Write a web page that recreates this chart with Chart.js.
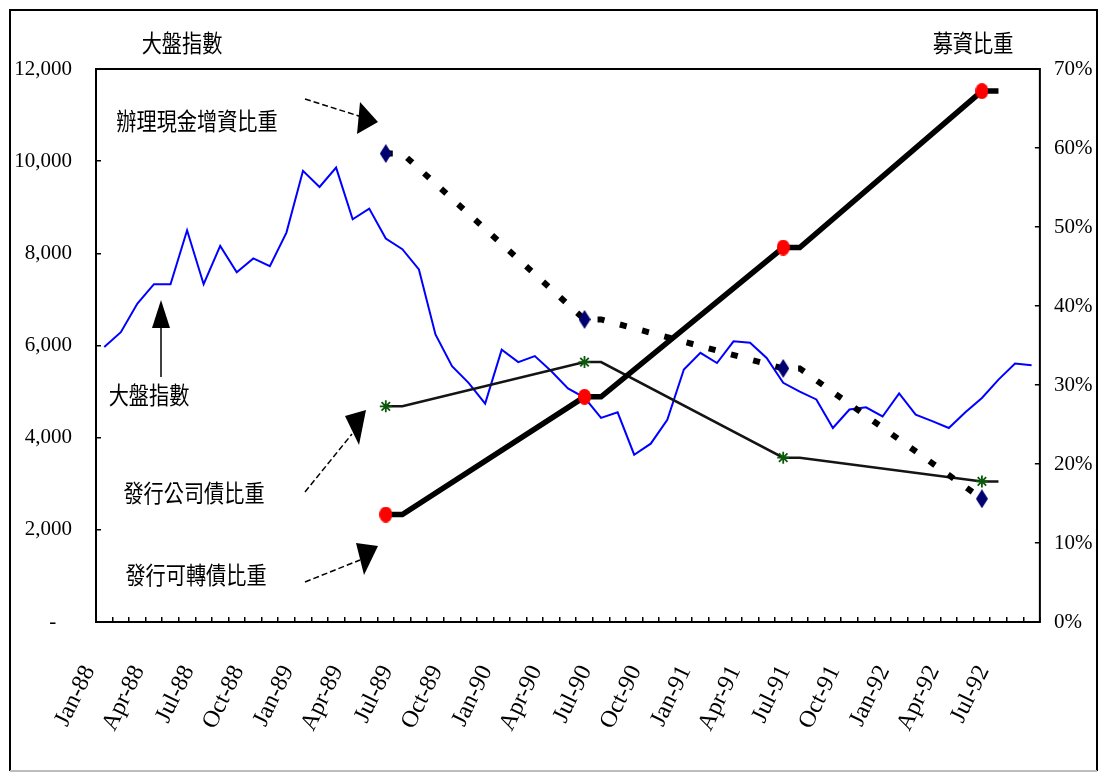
<!DOCTYPE html>
<html>
<head>
<meta charset="utf-8">
<script src="https://cdn.jsdelivr.net/npm/chart.js@4/dist/chart.umd.min.js"></script>
<style>
  html, body { margin: 0; padding: 0; background: #ffffff; }
  canvas { display: block; }
</style>
</head>
<body>
<canvas id="chart" width="1102" height="774"></canvas>
<script>
// Monthly categories, Jan-88 .. Sep-92
const months = [
  'Jan-88','Feb-88','Mar-88','Apr-88','May-88','Jun-88','Jul-88','Aug-88','Sep-88','Oct-88','Nov-88','Dec-88',
  'Jan-89','Feb-89','Mar-89','Apr-89','May-89','Jun-89','Jul-89','Aug-89','Sep-89','Oct-89','Nov-89','Dec-89',
  'Jan-90','Feb-90','Mar-90','Apr-90','May-90','Jun-90','Jul-90','Aug-90','Sep-90','Oct-90','Nov-90','Dec-90',
  'Jan-91','Feb-91','Mar-91','Apr-91','May-91','Jun-91','Jul-91','Aug-91','Sep-91','Oct-91','Nov-91','Dec-91',
  'Jan-92','Feb-92','Mar-92','Apr-92','May-92','Jun-92','Jul-92','Aug-92','Sep-92'
];

// 大盤指數 (left axis)
const indexLevels = [
  5970, 6290, 6910, 7330, 7330, 8500, 7330, 8160, 7590, 7890, 7720, 8450,
  9790, 9440, 9860, 8740, 8970, 8320, 8090, 7650, 6240, 5550, 5190, 4740,
  5910, 5640, 5770, 5440, 5070, 4870, 4430, 4550, 3630, 3870, 4390, 5480,
  5840, 5620, 6090, 6060, 5730, 5190, 5000, 4830, 4210, 4610, 4660, 4460,
  4960, 4500, 4360, 4210, 4550, 4860, 5260, 5610, 5570
];

// 募資比重 (right axis, %)
const shareMonths      = ['Jun-89','Jul-89','Jun-90','Jul-90','Jun-91','Jul-91','Jun-92','Jul-92'];
const convertibleShare = [13.6, 13.6, 28.5, 28.5, 47.4, 47.4, 67.2, 67.2];   // 發行可轉債比重
const corporateShare   = [27.3, 27.3, 32.9, 32.9, 20.8, 20.8, 17.8, 17.8];   // 發行公司債比重
const cashMonths       = ['Jun-89','Jul-89','Jun-90','Jul-90','Jun-91','Jul-91','Jun-92'];
const cashShare        = [59.3, 59.3, 38.3, 38.3, 32.1, 32.1, 15.6];         // 辦理現金增資比重
const markerMonths     = ['Jun-89','Jun-90','Jun-91','Jun-92'];

// Axis ticks
const indexTicks = [0, 2000, 4000, 6000, 8000, 10000, 12000];
const shareTicks = [0, 10, 20, 30, 40, 50, 60, 70];

const pairs = (xs, ys) => xs.map((m, i) => ({ x: m, y: ys[i] }));
const markerRadius = r => ctx => (ctx.raw && markerMonths.includes(ctx.raw.x)) ? r : 0;

// Tall marker shapes
function makeMarker(w, h, draw) {
  const c = document.createElement('canvas');
  c.width = w; c.height = h;
  draw(c.getContext('2d'), w, h);
  return c;
}
const diamondMarker = makeMarker(12, 19, (g, w, h) => {
  g.fillStyle = '#000070';
  g.beginPath();
  g.moveTo(w / 2, 0); g.lineTo(w, h / 2); g.lineTo(w / 2, h); g.lineTo(0, h / 2);
  g.closePath(); g.fill();
});
const dotMarker = makeMarker(13, 16, (g, w, h) => {
  g.fillStyle = '#ff0000';
  g.beginPath();
  g.ellipse(w / 2, h / 2, w / 2, h / 2, 0, 0, Math.PI * 2);
  g.fill();
});

const FRAME = { left: 10, top: 10, right: 1097, bottom: 771 };

function cjkText(ctx, str, cx, cy) {
  ctx.save();
  ctx.translate(cx, cy);
  ctx.scale(0.84, 1);
  ctx.font = '24px "Noto Sans CJK TC"';
  ctx.fillStyle = '#000';
  ctx.textAlign = 'center';
  ctx.textBaseline = 'middle';
  ctx.fillText(str, 0, 0);
  ctx.restore();
}

function arrow(ctx, line, head, dashed) {
  ctx.save();
  ctx.strokeStyle = '#000';
  ctx.lineWidth = 1.5;
  ctx.setLineDash(dashed ? [6, 3] : []);
  ctx.beginPath();
  ctx.moveTo(line[0], line[1]);
  ctx.lineTo(line[2], line[3]);
  ctx.stroke();
  ctx.setLineDash([]);
  ctx.fillStyle = '#000';
  ctx.beginPath();
  ctx.moveTo(head[0][0], head[0][1]);
  ctx.lineTo(head[1][0], head[1][1]);
  ctx.lineTo(head[2][0], head[2][1]);
  ctx.closePath();
  ctx.fill();
  ctx.restore();
}

const decorations = {
  id: 'decorations',
  afterDraw(chart) {
    const { ctx, chartArea: a } = chart;
    ctx.save();
    // outer frame
    ctx.lineWidth = 2;
    ctx.strokeStyle = '#000';
    ctx.beginPath();
    ctx.moveTo(FRAME.left, FRAME.bottom);
    ctx.lineTo(FRAME.left, FRAME.top);
    ctx.lineTo(FRAME.right, FRAME.top);
    ctx.lineTo(FRAME.right, FRAME.bottom);
    ctx.stroke();
    ctx.strokeStyle = '#bdbdbd';
    ctx.beginPath();
    ctx.moveTo(FRAME.left, FRAME.bottom);
    ctx.lineTo(FRAME.right, FRAME.bottom);
    ctx.stroke();
    // plot box
    ctx.strokeStyle = '#000';
    ctx.lineWidth = 2;
    ctx.strokeRect(a.left, a.top, a.right - a.left, a.bottom - a.top);
    ctx.restore();

    // axis titles
    cjkText(ctx, '大盤指數', 182, 43);
    cjkText(ctx, '募資比重', 973, 43);

    // callouts
    cjkText(ctx, '辦理現金增資比重', 197, 121);
    arrow(ctx, [305, 99, 362, 117], [[378, 122], [360, 102], [357, 134]], true);

    cjkText(ctx, '大盤指數', 149, 395);
    arrow(ctx, [161, 377, 161, 325], [[161, 300], [152, 328], [170, 328]], false);

    cjkText(ctx, '發行公司債比重', 194, 493);
    arrow(ctx, [305, 492, 352, 434], [[366, 410], [345, 416], [359, 445]], true);

    cjkText(ctx, '發行可轉債比重', 196, 575);
    arrow(ctx, [305, 582, 360, 560], [[378, 546], [356, 543], [364, 575]], true);
  }
};

const tickFont = { family: '"Liberation Serif", "Times New Roman", serif', size: 21 };

new Chart(document.getElementById('chart'), {
  type: 'line',
  data: {
    labels: months,
    datasets: [
      {
        label: '大盤指數',
        data: indexLevels,
        yAxisID: 'y',
        borderColor: '#0000ff',
        borderWidth: 2,
        pointRadius: 0,
        tension: 0,
        order: 4
      },
      {
        label: '發行公司債比重',
        data: pairs(shareMonths, corporateShare),
        yAxisID: 'y1',
        borderColor: '#141414',
        borderWidth: 2.5,
        pointStyle: 'star',
        pointRadius: markerRadius(6),
        pointBorderColor: '#0b5a0b',
        pointBackgroundColor: '#0b5a0b',
        pointBorderWidth: 1.8,
        order: 3
      },
      {
        label: '辦理現金增資比重',
        data: pairs(cashMonths, cashShare),
        yAxisID: 'y1',
        borderColor: '#000',
        borderWidth: 6,
        borderDash: [7, 16],
        borderCapStyle: 'butt',
        pointStyle: diamondMarker,
        pointRadius: markerRadius(6),
        order: 2
      },
      {
        label: '發行可轉債比重',
        data: pairs(shareMonths, convertibleShare),
        yAxisID: 'y1',
        borderColor: '#000',
        borderWidth: 5.5,
        pointStyle: dotMarker,
        pointRadius: markerRadius(6),
        order: 1
      }
    ]
  },
  options: {
    responsive: false,
    animation: false,
    layout: { padding: { top: 69, left: 0, right: 0, bottom: 0 } },
    plugins: { legend: { display: false }, tooltip: { enabled: false } },
    scales: {
      x: {
        type: 'category',
        offset: true,
        grid: { offset: true, drawOnChartArea: false, drawTicks: true, tickLength: -5, color: '#000', lineWidth: 1.5 },
        border: { display: false },
        ticks: {
          autoSkip: false,
          minRotation: 64,
          maxRotation: 64,
          padding: 44,
          labelOffset: -15,
          color: '#000',
          font: { family: tickFont.family, size: 24 },
          callback: (v, i) => (i % 3 === 0 ? months[i] : '')
        },
        afterFit: s => { s.height = 152; }
      },
      y: {
        position: 'left',
        min: 0,
        max: 12000,
        grid: { drawOnChartArea: false, drawTicks: true, tickLength: -5, color: '#000', lineWidth: 1.5 },
        border: { display: false },
        afterBuildTicks: s => { s.ticks = indexTicks.map(v => ({ value: v })); },
        ticks: {
          padding: 29,
          color: '#000',
          font: tickFont,
          callback: v => (v === 0 ? '-   ' : v.toLocaleString('en-US'))
        },
        afterFit: s => { s.width = 96; }
      },
      y1: {
        position: 'right',
        min: 0,
        max: 70,
        grid: { drawOnChartArea: false, drawTicks: true, tickLength: -5, color: '#000', lineWidth: 1.5 },
        border: { display: false },
        afterBuildTicks: s => { s.ticks = shareTicks.map(v => ({ value: v })); },
        ticks: {
          padding: 19,
          color: '#000',
          font: tickFont,
          callback: v => v + '%'
        },
        afterFit: s => { s.width = 58; }
      }
    }
  },
  plugins: [decorations]
});
</script>
</body>
</html>
